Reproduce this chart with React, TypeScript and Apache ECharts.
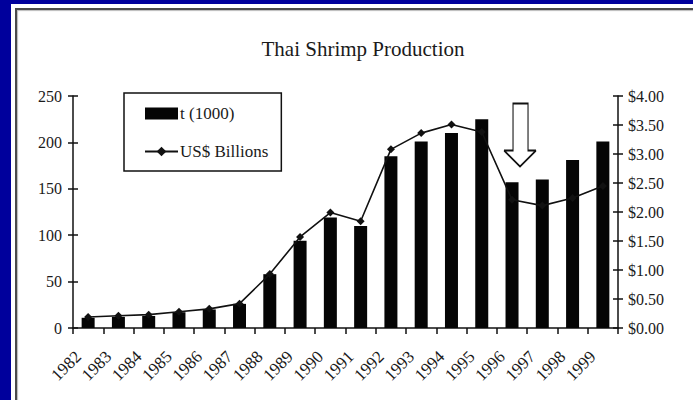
import React, { useEffect, useRef } from 'react';
import * as echarts from 'echarts';

const years = ['1982', '1983', '1984', '1985', '1986', '1987', '1988', '1989', '1990', '1991', '1992', '1993', '1994', '1995', '1996', '1997', '1998', '1999'];
const production = [11, 12, 13, 17, 20, 26, 58, 94, 119, 110, 185, 201, 210, 225, 157, 160, 181, 201];
const billions = [0.19, 0.21, 0.23, 0.28, 0.33, 0.42, 0.93, 1.57, 1.99, 1.84, 3.08, 3.36, 3.51, 3.38, 2.21, 2.11, 2.24, 2.45];
const titleText = 'Thai Shrimp Production';
const barName = 't (1000)';
const lineName = 'US$ Billions';
const arrowYear = '1996';
const arrowValue = 208;

const FONT = 'Liberation Serif, Times New Roman, serif';
const TXT = '#1a1a1a';

export default function App() {
  const ref = useRef<HTMLDivElement>(null);
  useEffect(() => {
    const chart = echarts.init(ref.current!, null, { renderer: 'svg' });
    const axisLine = { show: true, lineStyle: { color: '#111', width: 1.5 } };
    chart.setOption({
      animation: false,
      backgroundColor: 'transparent',
      textStyle: { fontFamily: FONT, color: TXT },
      title: {
        text: titleText,
        left: 358,
        textAlign: 'center',
        top: 33,
        textStyle: { fontFamily: FONT, fontSize: 21, fontWeight: 'normal', color: TXT },
      },
      legend: {
        orient: 'vertical',
        left: 124,
        top: 93,
        borderColor: '#111',
        borderWidth: 1.5,
        padding: [12, 13, 11, 20],
        itemGap: 21,
        itemWidth: 33,
        itemHeight: 12,
        textStyle: { fontFamily: FONT, fontSize: 17, color: TXT, padding: [0, 0, 0, -3] },
        data: [
          { name: barName, icon: 'rect' },
          { name: lineName },
        ],
      },
      grid: { left: 73, right: 75, top: 96, bottom: 72, containLabel: false },
      xAxis: {
        type: 'category',
        data: years,
        boundaryGap: true,
        axisLine,
        axisTick: { show: true, length: 6, lineStyle: { color: '#111', width: 1.5 } },
        axisLabel: { rotate: 45, fontSize: 17, fontFamily: FONT, color: TXT, margin: 16, interval: 0, padding: [0, 14, 0, 0] },
        splitLine: { show: false },
      },
      yAxis: [
        {
          type: 'value', min: 0, max: 250, interval: 50, position: 'left',
          axisLine, axisTick: { show: true, length: 5, lineStyle: { color: '#111', width: 1.5 } },
          axisLabel: { fontSize: 16, fontFamily: FONT, color: TXT, margin: 11 },
          splitLine: { show: false },
        },
        {
          type: 'value', min: 0, max: 4, interval: 0.5, position: 'right',
          axisLine, axisTick: { show: true, length: 5, lineStyle: { color: '#111', width: 1.5 } },
          axisLabel: { fontSize: 16, fontFamily: FONT, color: TXT, margin: 10, formatter: (v: number) => '$' + v.toFixed(2) },
          splitLine: { show: false },
        },
        {
          type: 'value', min: 0, max: 250, interval: 50, position: 'left',
          axisLine: { show: false }, axisTick: { show: true, inside: true, length: 5, lineStyle: { color: '#111', width: 1.5 } },
          axisLabel: { show: false }, splitLine: { show: false },
        },
        {
          type: 'value', min: 0, max: 4, interval: 0.5, position: 'right',
          axisLine: { show: false }, axisTick: { show: true, inside: true, length: 5, lineStyle: { color: '#111', width: 1.5 } },
          axisLabel: { show: false }, splitLine: { show: false },
        },
      ],
      series: [
        {
          name: lineName,
          type: 'line',
          yAxisIndex: 1,
          data: billions,
          symbol: 'diamond',
          symbolSize: 8,
          lineStyle: { color: '#111', width: 1.6 },
          itemStyle: { color: '#111' },
        },
        {
          name: barName,
          type: 'bar',
          yAxisIndex: 0,
          data: production,
          barWidth: 13,
          itemStyle: { color: '#050505' },
          markPoint: {
            silent: true,
            data: [
              {
                coord: [arrowYear, arrowValue],
                symbol: 'path://M9 0 L24 0 L24 47 L32 47 L16 63 L0 47 L9 47 Z',
                symbolSize: [32, 63],
                symbolOffset: [8, 0],
                itemStyle: { color: '#ffffff', borderColor: '#111', borderWidth: 1.5 },
                label: { show: false },
              },
            ],
          },
        },
      ],
    });
    return () => chart.dispose();
  }, []);
  return (
    <div style={{ position: 'absolute', left: 0, top: 0, width: 693, height: 400, background: '#00009c', overflow: 'hidden' }}>
      <div style={{ position: 'absolute', left: 11, top: 4, right: 0, bottom: 0, background: '#ffffff' }} />
      <div style={{ position: 'absolute', left: 15, top: 8, width: 720, height: 420, borderTop: '2px solid #4a4a4a', borderLeft: '2px solid #4a4a4a', boxShadow: 'inset 1px 1px 1px #bbb' }} />
      <div ref={ref} style={{ position: 'absolute', left: 0, top: 0, width: 693, height: 400 }} />
    </div>
  );
}
